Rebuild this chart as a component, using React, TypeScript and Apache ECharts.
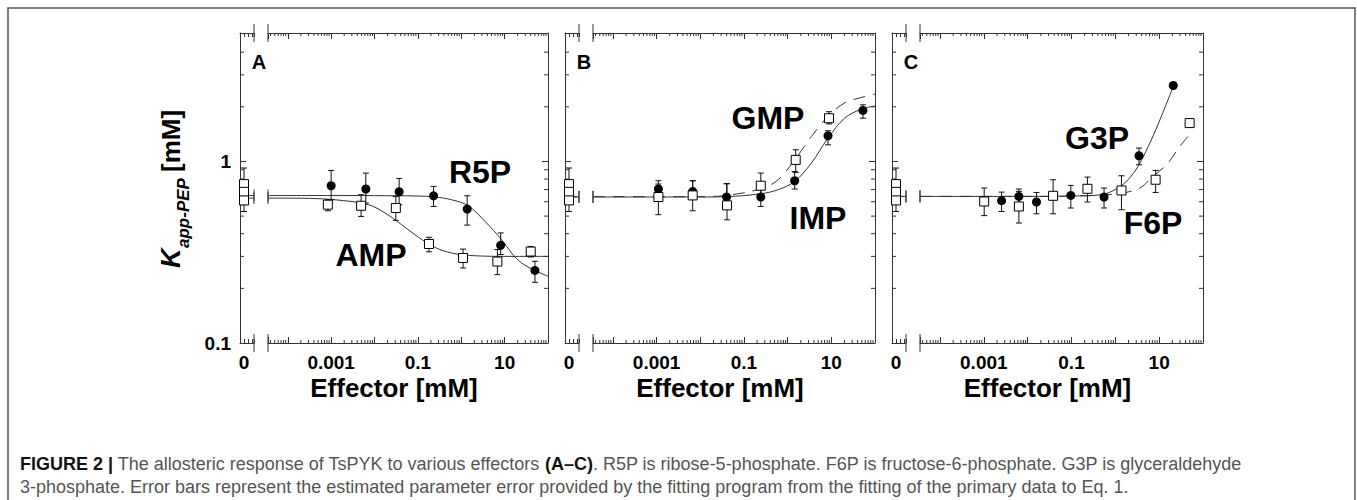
import React, { useEffect, useRef } from "react";
import * as echarts from "echarts";

// ---------- axis ranges & tick labels ----------
const X_MIN = 3.5e-5;
const X_MAX = 100;
const Y_MIN = 0.1;
const Y_MAX = 5.1;
const ZERO_MIN = -1;
const ZERO_MAX = 2.5;
const xTickLabels = ["0.001", "0.1", "10"];
const yTickLabels = ["0.1", "1"];
const zeroTickLabel = "0";
const xMinorMultipliers = [2, 3, 4, 5, 6, 7, 8, 9];
const xMinorDecades = [1e-5, 1e-4, 1e-3, 1e-2, 1e-1, 1, 10];
const yMinorTicks = [0.2, 0.3, 0.4, 0.5, 0.6, 0.7, 0.8, 0.9, 2, 3, 4];

// ---------- Panel A: R5P (filled circles) & AMP (open squares) ----------
const r5pX = [0.001, 0.0063, 0.037, 0.23, 1.37, 8.1, 50];
const r5pY = [0.735, 0.705, 0.681, 0.647, 0.547, 0.345, 0.251];
const r5pLo = [0.615, 0.59, 0.578, 0.565, 0.446, 0.307, 0.216];
const r5pHi = [0.892, 0.863, 0.806, 0.729, 0.647, 0.404, 0.282];
const r5pFitX = [3.5e-5, 0.001, 0.01, 0.1, 0.248, 0.601, 1.45, 3.51, 8.53, 14.5, 24.6, 49.9, 100];
const r5pFitY = [0.649, 0.649, 0.648, 0.645, 0.637, 0.615, 0.57, 0.468, 0.371, 0.313, 0.276, 0.251, 0.233];

const ampX = [0.00084, 0.0049, 0.031, 0.18, 1.1, 6.8, 40];
const ampY = [0.578, 0.57, 0.554, 0.351, 0.294, 0.281, 0.319];
const ampLo = [0.535, 0.498, 0.474, 0.318, 0.259, 0.238, 0.298];
const ampHi = [0.615, 0.656, 0.642, 0.382, 0.329, 0.327, 0.34];
const ampFitX = [3.5e-5, 0.0002, 0.00123, 0.0072, 0.0175, 0.0424, 0.102, 0.248, 0.601, 1.45, 8.53, 100];
const ampFitY = [0.628, 0.627, 0.615, 0.578, 0.52, 0.448, 0.383, 0.336, 0.313, 0.304, 0.3, 0.3];

const zeroAY = [0.75, 0.68, 0.61];
const zeroALo = [0.62, 0.6, 0.53];
const zeroAHi = [0.92, 0.78, 0.7];

// ---------- Panel B: IMP (filled circles) & GMP (open squares) ----------
const impX = [0.0011, 0.0067, 0.04, 0.243, 1.45, 8.4, 53];
const impY = [0.705, 0.684, 0.637, 0.637, 0.783, 1.385, 1.91];
const impLo = [0.628, 0.62, 0.565, 0.565, 0.705, 1.235, 1.73];
const impHi = [0.783, 0.783, 0.754, 0.699, 0.881, 1.476, 2.05];
const impFitX = [3.5e-5, 0.01, 0.04, 0.243, 0.607, 1.45, 3.49, 8.4, 20.1, 48.4, 100];
const impFitY = [0.637, 0.637, 0.64, 0.664, 0.699, 0.776, 0.98, 1.345, 1.73, 1.94, 2.02];

const gmpX = [0.0011, 0.0067, 0.041, 0.243, 1.53, 8.85];
const gmpY = [0.637, 0.65, 0.573, 0.735, 1.02, 1.73];
const gmpLo = [0.509, 0.535, 0.477, 0.628, 0.87, 1.61];
const gmpHi = [0.751, 0.783, 0.754, 0.863, 1.16, 1.88];
const gmpFitX = [3.5e-5, 0.01, 0.04, 0.243, 0.607, 1.45, 3.49, 8.4, 20.1, 48.4, 100];
const gmpFitY = [0.64, 0.64, 0.65, 0.707, 0.793, 1.02, 1.37, 1.77, 2.1, 2.25, 2.35];

const zeroBY = [0.75, 0.68, 0.61];
const zeroBLo = [0.62, 0.6, 0.53];
const zeroBHi = [0.92, 0.78, 0.7];

// ---------- Panel C: G3P (filled circles) & F6P (open squares) ----------
const g3pX = [0.00254, 0.0063, 0.0159, 0.0965, 0.553, 3.47, 21.0];
const g3pY = [0.608, 0.642, 0.598, 0.65, 0.637, 1.075, 2.62];
const g3pLo = [0.53, 0.58, 0.515, 0.554, 0.554, 0.959, 2.55];
const g3pHi = [0.678, 0.705, 0.675, 0.738, 0.714, 1.185, 2.7];
const g3pFitX = [3.5e-5, 0.01, 0.1, 0.482, 1.15, 1.95, 3.29, 6.64, 11.2, 21];
const g3pFitY = [0.642, 0.642, 0.645, 0.656, 0.714, 0.793, 0.939, 1.316, 1.77, 2.59];

const f6pX = [0.00102, 0.0063, 0.0381, 0.231, 1.38, 8.3, 49.6];
const f6pY = [0.602, 0.565, 0.647, 0.707, 0.692, 0.793, 1.627];
const f6pLo = [0.503, 0.458, 0.515, 0.598, 0.542, 0.675, 1.58];
const f6pHi = [0.714, 0.684, 0.793, 0.82, 0.834, 0.892, 1.68];
const f6pFitX = [3.5e-5, 0.01, 0.1, 1.15, 3.6, 6.64, 15.9, 26.9, 45.3];
const f6pFitY = [0.642, 0.642, 0.645, 0.664, 0.714, 0.81, 0.98, 1.175, 1.373];

const zeroCY = [0.75, 0.68, 0.61];
const zeroCLo = [0.62, 0.6, 0.53];
const zeroCHi = [0.92, 0.78, 0.7];

// ---------- texts ----------
const panelLetters = ["A", "B", "C"];
const solidNames = ["R5P", "IMP", "G3P"];
const openNames = ["AMP", "GMP", "F6P"];
const xAxisTitle = "Effector [mM]";
const yTitleMain = "K";
const yTitleSub = "app-PEP";
const yTitleUnit = "[mM]";
const caption1 =
  "{b|FIGURE 2 |} The allosteric response of TsPYK to various effectors {b|(A–C)}. R5P is ribose-5-phosphate. F6P is fructose-6-phosphate. G3P is glyceraldehyde";
const caption2 =
  "3-phosphate. Error bars represent the estimated parameter error provided by the fitting program from the fitting of the primary data to Eq. 1.";

// ---------- layout (pixels) ----------
const FONT = "'Liberation Sans', Arial, Helvetica, sans-serif";
const INK = "#111";
const LINE = "#333";
const TOP = 33;
const H = 310;
const layouts = [
  { left: 240, brk: 254, main: 268, right: 548, solidLbl: [480, 172], openLbl: [371, 255] },
  { left: 565, brk: 579, main: 593, right: 875, solidLbl: [818, 218], openLbl: [768, 118] },
  { left: 892, brk: 906, main: 920, right: 1203, solidLbl: [1097, 138], openLbl: [1153, 223] },
];

const panels = [
  {
    solid: { x: r5pX, y: r5pY, lo: r5pLo, hi: r5pHi, fx: r5pFitX, fy: r5pFitY, dashed: false },
    open: { x: ampX, y: ampY, lo: ampLo, hi: ampHi, fx: ampFitX, fy: ampFitY, dashed: false },
    zero: { y: zeroAY, lo: zeroALo, hi: zeroAHi },
  },
  {
    solid: { x: impX, y: impY, lo: impLo, hi: impHi, fx: impFitX, fy: impFitY, dashed: false },
    open: { x: gmpX, y: gmpY, lo: gmpLo, hi: gmpHi, fx: gmpFitX, fy: gmpFitY, dashed: true },
    zero: { y: zeroBY, lo: zeroBLo, hi: zeroBHi },
  },
  {
    solid: { x: g3pX, y: g3pY, lo: g3pLo, hi: g3pHi, fx: g3pFitX, fy: g3pFitY, dashed: false },
    open: { x: f6pX, y: f6pY, lo: f6pLo, hi: f6pHi, fx: f6pFitX, fy: f6pFitY, dashed: true },
    zero: { y: zeroCY, lo: zeroCLo, hi: zeroCHi },
  },
];

const labelFont = { fontFamily: FONT, fontWeight: "bold" as const, fontSize: 19, color: "#000" };
const axisLineStyle = { color: LINE, width: 1 };

function nearLog(a: number, b: number) {
  return Math.abs(Math.log10(a) - Math.log10(b)) < 1e-6;
}

function errorSeries(xi: number, yi: number, xs: number[], lo: number[], hi: number[]) {
  return {
    type: "custom",
    xAxisIndex: xi,
    yAxisIndex: yi,
    silent: true,
    z: 3,
    data: xs.map((x, k) => [x, lo[k], hi[k]]),
    renderItem: (params: any, api: any) => {
      const t = api.coord([api.value(0), api.value(2)]);
      const b = api.coord([api.value(0), api.value(1)]);
      const c = 3;
      const st = { stroke: INK, lineWidth: 1 };
      return {
        type: "group",
        children: [
          { type: "line", shape: { x1: t[0], y1: t[1], x2: b[0], y2: b[1] }, style: st },
          { type: "line", shape: { x1: t[0] - c, y1: t[1], x2: t[0] + c, y2: t[1] }, style: st },
          { type: "line", shape: { x1: b[0] - c, y1: b[1], x2: b[0] + c, y2: b[1] }, style: st },
        ],
      };
    },
  };
}

function buildOption() {
  const grid: any[] = [];
  const xAxis: any[] = [];
  const yAxis: any[] = [];
  const series: any[] = [];
  const graphic: any[] = [];

  const xMinorValues: number[] = [];
  xMinorDecades.forEach((d) =>
    xMinorMultipliers.forEach((m) => {
      const v = m * d;
      if (v > X_MIN && v < X_MAX) xMinorValues.push(v);
    })
  );

  panels.forEach((pd, i) => {
    const L = layouts[i];
    const gs = grid.length;
    grid.push({ left: L.left, top: TOP, width: L.brk - L.left, height: H, outerBoundsMode: "none" });
    grid.push({ left: L.main, top: TOP, width: L.right - L.main, height: H, outerBoundsMode: "none" });
    const gm = gs + 1;

    const xi = xAxis.length;
    const smallX = (pos: string, show: boolean) => ({
      type: "value",
      gridIndex: gs,
      position: pos,
      min: ZERO_MIN,
      max: ZERO_MAX,
      interval: 1,
      axisLine: { show: true, onZero: false, lineStyle: axisLineStyle },
      axisTick: { show: true, inside: true, length: 4, lineStyle: axisLineStyle },
      axisLabel: {
        show: show,
        interval: 0,
        margin: 10,
        ...labelFont,
        formatter: (v: number) => (v === 0 ? zeroTickLabel : ""),
      },
      splitLine: { show: false },
    });
    const mainX = (pos: string, show: boolean) => ({
      type: "log",
      logBase: 10,
      gridIndex: gm,
      position: pos,
      min: X_MIN,
      max: X_MAX,
      axisLine: { show: true, onZero: false, lineStyle: axisLineStyle },
      axisTick: { show: true, inside: true, length: 6, interval: 0, lineStyle: axisLineStyle },
      axisLabel: {
        show: show,
        interval: 0,
        margin: 10,
        hideOverlap: false,
        ...labelFont,
        formatter: (v: number) => xTickLabels.find((s) => nearLog(Number(s), v)) ?? "",
      },
      splitLine: { show: false },
    });
    xAxis.push(smallX("bottom", true), smallX("top", false), mainX("bottom", true), mainX("top", false));

    const yi = yAxis.length;
    const yAx = (g: number, pos: string, show: boolean) => ({
      type: "log",
      logBase: 10,
      gridIndex: g,
      position: pos,
      min: Y_MIN,
      max: Y_MAX,
      axisLine: { show: true, onZero: false, lineStyle: axisLineStyle },
      axisTick: { show: true, inside: true, length: 6, interval: 0, lineStyle: axisLineStyle },
      axisLabel: {
        show: show,
        interval: 0,
        margin: 9,
        ...labelFont,
        formatter: (v: number) => yTickLabels.find((s) => nearLog(Number(s), v)) ?? "",
      },
      splitLine: { show: false },
    });
    yAxis.push(yAx(gs, "left", i === 0), yAx(gm, "right", false));

    const sX = xi, sY = yi, mX = xi + 2, mY = yi + 1;

    // minor ticks on the log x axes (top & bottom of main grid)
    series.push({
      type: "custom",
      xAxisIndex: mX,
      yAxisIndex: mY,
      silent: true,
      z: 1,
      data: xMinorValues.map((v) => [v, 1]),
      renderItem: (params: any, api: any) => {
        const cs = params.coordSys;
        const x = api.coord([api.value(0), 1])[0];
        const st = { stroke: LINE, lineWidth: 1 };
        return {
          type: "group",
          children: [
            { type: "line", shape: { x1: x, y1: cs.y + cs.height, x2: x, y2: cs.y + cs.height - 3 }, style: st },
            { type: "line", shape: { x1: x, y1: cs.y, x2: x, y2: cs.y + 3 }, style: st },
          ],
        };
      },
    });
    // minor y ticks, right side of main grid
    series.push({
      type: "custom",
      xAxisIndex: mX,
      yAxisIndex: mY,
      silent: true,
      z: 1,
      data: yMinorTicks.map((v) => [1, v]),
      renderItem: (params: any, api: any) => {
        const cs = params.coordSys;
        const y = api.coord([1, api.value(1)])[1];
        const xr = cs.x + cs.width;
        return {
          type: "line",
          shape: { x1: xr - 4, y1: y, x2: xr, y2: y },
          style: { stroke: LINE, lineWidth: 1 },
        };
      },
    });
    // minor y ticks, left side of the zero segment
    series.push({
      type: "custom",
      xAxisIndex: sX,
      yAxisIndex: sY,
      silent: true,
      z: 1,
      data: yMinorTicks.map((v) => [0, v]),
      renderItem: (params: any, api: any) => {
        const cs = params.coordSys;
        const y = api.coord([0, api.value(1)])[1];
        return {
          type: "line",
          shape: { x1: cs.x, y1: y, x2: cs.x + 4, y2: y },
          style: { stroke: LINE, lineWidth: 1 },
        };
      },
    });

    // axis-break marks (on both grids, at the axes and at the curve level)
    const breakStarts = [pd.solid.fy[0], pd.open.fy[0]];
    const breakSeries = (xIdx: number, yIdx: number, xv: number, atRight: boolean) => ({
      type: "custom",
      xAxisIndex: xIdx,
      yAxisIndex: yIdx,
      silent: true,
      z: 3,
      data: breakStarts.map((v) => [xv, v]),
      renderItem: (params: any, api: any) => {
        const cs = params.coordSys;
        const x = atRight ? cs.x + cs.width : cs.x;
        const y = api.coord([xv, api.value(1)])[1];
        const st = { stroke: LINE, lineWidth: 1 };
        const children: any[] = [{ type: "line", shape: { x1: x, y1: y - 6, x2: x, y2: y + 6 }, style: st }];
        if (params.dataIndex === 0) {
          children.push(
            { type: "line", shape: { x1: x, y1: cs.y - 9, x2: x, y2: cs.y + 9 }, style: st },
            { type: "line", shape: { x1: x, y1: cs.y + cs.height - 9, x2: x, y2: cs.y + cs.height + 9 }, style: st }
          );
        }
        return { type: "group", children };
      },
    });
    series.push(breakSeries(sX, sY, 0, true));
    series.push(breakSeries(mX, mY, X_MIN, false));

    // fitted curves
    [pd.solid, pd.open].forEach((s) => {
      const ls = { color: LINE, width: 1, type: s.dashed ? [12, 8] : "solid" };
      series.push({
        type: "line",
        xAxisIndex: mX,
        yAxisIndex: mY,
        silent: true,
        z: 2,
        symbol: "none",
        smooth: 0.35,
        lineStyle: ls,
        data: s.fx.map((x, k) => [x, s.fy[k]]),
      });
      series.push({
        type: "line",
        xAxisIndex: sX,
        yAxisIndex: sY,
        silent: true,
        z: 2,
        symbol: "none",
        lineStyle: ls,
        data: [
          [ZERO_MIN, s.fy[0]],
          [ZERO_MAX, s.fy[0]],
        ],
      });
    });

    // error bars
    series.push(errorSeries(mX, mY, pd.solid.x, pd.solid.lo, pd.solid.hi));
    series.push(errorSeries(mX, mY, pd.open.x, pd.open.lo, pd.open.hi));
    series.push(errorSeries(sX, sY, pd.zero.y.map(() => 0), pd.zero.lo, pd.zero.hi));

    // markers
    series.push({
      type: "scatter",
      xAxisIndex: mX,
      yAxisIndex: mY,
      silent: true,
      z: 4,
      symbol: "circle",
      symbolSize: 9,
      itemStyle: { color: "#000", opacity: 1 },
      data: pd.solid.x.map((x, k) => [x, pd.solid.y[k]]),
    });
    series.push({
      type: "scatter",
      xAxisIndex: mX,
      yAxisIndex: mY,
      silent: true,
      z: 5,
      symbol: "rect",
      symbolSize: [9, 9],
      itemStyle: { color: "#fff", borderColor: "#000", borderWidth: 1, opacity: 1 },
      data: pd.open.x.map((x, k) => [x, pd.open.y[k]]),
    });
    series.push({
      type: "scatter",
      xAxisIndex: sX,
      yAxisIndex: sY,
      silent: true,
      z: 5,
      symbol: "rect",
      symbolSize: [9, 9],
      itemStyle: { color: "#fff", borderColor: "#000", borderWidth: 1, opacity: 1 },
      data: pd.zero.y.map((y) => [0, y]),
    });

    // panel texts
    graphic.push({
      type: "text",
      x: L.left + 19,
      y: 62,
      silent: true,
      style: { text: panelLetters[i], fontFamily: FONT, fontWeight: "bold", fontSize: 20, fill: "#000", align: "center", verticalAlign: "middle" },
    });
    graphic.push({
      type: "text",
      x: L.solidLbl[0],
      y: L.solidLbl[1],
      silent: true,
      style: { text: solidNames[i], fontFamily: FONT, fontWeight: "bold", fontSize: 32, fill: "#000", align: "center", verticalAlign: "middle" },
    });
    graphic.push({
      type: "text",
      x: L.openLbl[0],
      y: L.openLbl[1],
      silent: true,
      style: { text: openNames[i], fontFamily: FONT, fontWeight: "bold", fontSize: 32, fill: "#000", align: "center", verticalAlign: "middle" },
    });
    graphic.push({
      type: "text",
      x: (L.left + L.right) / 2,
      y: 388,
      silent: true,
      style: { text: xAxisTitle, fontFamily: FONT, fontWeight: "bold", fontSize: 26, fill: "#000", align: "center", verticalAlign: "middle" },
    });
  });

  // y-axis title (rotated)
  graphic.push(
    {
      type: "text",
      x: 171,
      y: 268,
      rotation: Math.PI / 2,
      silent: true,
      style: { text: yTitleMain, fontFamily: FONT, fontWeight: "bold", fontStyle: "italic", fontSize: 27, fill: "#000", align: "left", verticalAlign: "middle" },
    },
    {
      type: "text",
      x: 183,
      y: 248,
      rotation: Math.PI / 2,
      silent: true,
      style: { text: yTitleSub, fontFamily: FONT, fontWeight: "bold", fontStyle: "italic", fontSize: 17, fill: "#000", align: "left", verticalAlign: "middle" },
    },
    {
      type: "text",
      x: 171,
      y: 172,
      rotation: Math.PI / 2,
      silent: true,
      style: { text: yTitleUnit, fontFamily: FONT, fontWeight: "bold", fontSize: 26, fill: "#000", align: "left", verticalAlign: "middle" },
    }
  );

  // frame and caption
  graphic.push(
    {
      type: "rect",
      silent: true,
      shape: { x: 8, y: 8, width: 1347, height: 600 },
      style: { fill: "none", stroke: "#555", lineWidth: 1.5 },
    },
    {
      type: "text",
      x: 20,
      y: 464,
      silent: true,
      style: {
        text: caption1,
        fontFamily: FONT,
        fontSize: 18,
        fill: "#555",
        verticalAlign: "middle",
        rich: { b: { fontFamily: FONT, fontSize: 18, fontWeight: "bold", fill: "#111" } },
      },
    },
    {
      type: "text",
      x: 20,
      y: 487,
      silent: true,
      style: { text: caption2, fontFamily: FONT, fontSize: 18, fill: "#555", verticalAlign: "middle" },
    }
  );

  return {
    animation: false,
    backgroundColor: "#fff",
    grid,
    xAxis,
    yAxis,
    series,
    graphic: { elements: graphic },
  };
}

export default function App() {
  const ref = useRef<HTMLDivElement>(null);
  useEffect(() => {
    document.body.style.margin = "0";
    const chart = echarts.init(ref.current!, undefined, { renderer: "svg" });
    chart.setOption(buildOption() as any);
    return () => chart.dispose();
  }, []);
  return <div ref={ref} style={{ width: 1357, height: 500 }} />;
}
